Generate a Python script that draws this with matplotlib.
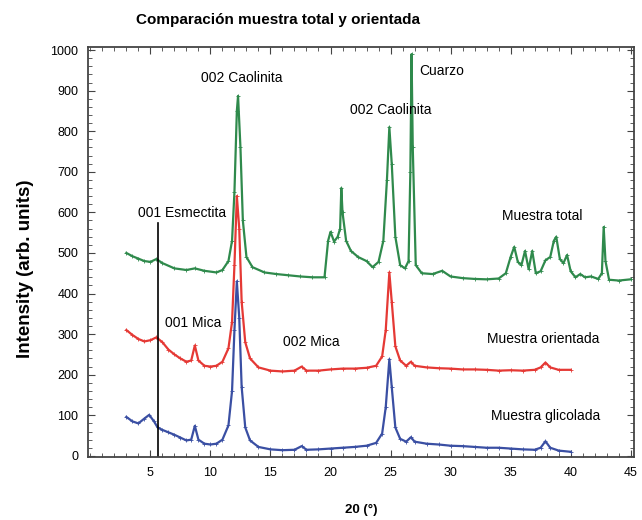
import matplotlib.pyplot as plt
from matplotlib.ticker import MultipleLocator

plt.rcParams['font.family'] = ['Liberation Sans', 'DejaVu Sans']

# Data (2theta in degrees, intensity)
x_total = [3.0, 3.5, 4.0, 4.5, 5.0, 5.5, 6.0, 7.0, 8.0, 8.7, 9.5, 10.5, 11.0, 11.5, 11.8,
           12.0, 12.2, 12.3, 12.5, 12.7, 13.0, 13.5, 14.5, 15.5, 16.5, 17.5, 18.5, 19.5,
           19.8, 20.0, 20.3, 20.6, 20.8, 20.9, 21.0, 21.3, 21.7, 22.3, 23.0, 23.5, 24.0,
           24.4, 24.7, 24.9, 25.1, 25.4, 25.8, 26.2, 26.5, 26.65, 26.75, 26.85, 27.1, 27.6,
           28.5, 29.3, 30.0, 31.0, 32.0, 33.0, 34.0, 34.6, 35.0, 35.3, 35.6, 35.9, 36.2,
           36.5, 36.8, 37.1, 37.5, 37.9, 38.3, 38.6, 38.8, 39.1, 39.4, 39.7, 40.0, 40.4,
           40.8, 41.2, 41.7, 42.3, 42.6, 42.75, 42.9, 43.2, 44.0, 45.0]
y_total = [500, 492, 486, 480, 478, 485, 475, 462, 458, 462, 456, 452, 458, 480, 530,
           650, 850, 887, 760, 580, 490, 465, 452, 448, 445, 442, 440, 440,
           530, 552, 528, 540, 560, 660, 600, 530, 505, 490, 480, 465, 478,
           530, 680, 810, 720, 540, 470, 462, 480, 700, 990, 760, 470, 450,
           448, 456, 442, 438, 436, 435, 437, 450, 490, 515, 478, 470, 505,
           460, 505, 450, 455, 482, 490, 530, 540, 485, 475, 495, 455, 440,
           448, 440, 442, 436, 450, 564, 480, 434, 432, 435]

x_orient = [3.0, 3.5, 4.0, 4.5, 5.0, 5.5, 6.0, 6.5, 7.0, 7.5, 8.0, 8.4, 8.7, 9.0, 9.5,
            10.0, 10.5, 11.0, 11.5, 11.8, 12.0, 12.2, 12.4, 12.6, 12.9, 13.3, 14.0, 15.0,
            16.0, 17.0, 17.6, 18.0, 19.0, 20.0, 21.0, 22.0, 23.0, 23.8, 24.3, 24.6, 24.9,
            25.1, 25.4, 25.8, 26.3, 26.7, 27.0, 28.0, 29.0, 30.0, 31.0, 32.0, 33.0, 34.0,
            35.0, 36.0, 37.0, 37.5, 37.9, 38.3, 39.0, 40.0]
y_orient = [310, 298, 288, 282, 285, 292, 280, 262, 250, 240, 232, 235, 272, 235, 222,
            220, 222, 232, 265, 330, 470, 640, 560, 380, 280, 240, 218, 210,
            208, 210, 220, 210, 210, 213, 215, 215, 217, 222, 245, 310, 452,
            380, 270, 235, 222, 232, 222, 218, 216, 215, 213, 213, 212, 210,
            211, 210, 212, 218, 230, 218, 212, 212]

x_glic = [3.0, 3.5, 4.0, 4.5, 4.9, 5.3, 5.6, 6.0, 6.5, 7.0, 7.5, 8.0, 8.4, 8.7, 9.0,
          9.5, 10.0, 10.5, 11.0, 11.5, 11.8, 12.0, 12.2, 12.4, 12.6, 12.9, 13.3, 14.0,
          15.0, 16.0, 17.0, 17.6, 18.0, 19.0, 20.0, 21.0, 22.0, 23.0, 23.8, 24.3, 24.6,
          24.9, 25.1, 25.4, 25.8, 26.3, 26.7, 27.0, 28.0, 29.0, 30.0, 31.0, 32.0, 33.0,
          34.0, 35.0, 36.0, 37.0, 37.5, 37.9, 38.3, 39.0, 40.0]
y_glic = [96, 85, 80, 92, 101, 85, 70, 64, 58, 52, 45, 38, 40, 74, 40,
          30, 28, 30, 40, 75, 160, 310, 430, 340, 170, 70, 38, 22,
          16, 14, 15, 24, 15, 16, 18, 20, 22, 25, 32, 55, 120,
          238, 170, 70, 42, 35, 46, 35, 30, 28, 25, 24, 22, 20,
          20, 18, 16, 15, 20, 36, 20, 13, 10]

fig = plt.figure(figsize=(6.42, 5.20), dpi=100)
ax = fig.add_axes([0.137, 0.121, 0.851, 0.789])

style = dict(linewidth=1.6, marker='+', markersize=2.5, markeredgewidth=0.6)
ax.plot(x_total, y_total, color='#2f8a4c', **style)
ax.plot(x_orient, y_orient, color='#e53935', **style)
ax.plot(x_glic, y_glic, color='#3a4fa3', **style)

# 001 Esmectita marker line
ax.plot([5.6, 5.6], [-3, 575], color='black', linewidth=1.2)

fs = 10
ax.text(4.0, 598, '001 Esmectita', fontsize=fs, va='center')
ax.text(12.6, 931, '002 Caolinita', fontsize=fs, ha='center', va='center')
ax.text(25.0, 852, '002 Caolinita', fontsize=fs, ha='center', va='center')
ax.text(27.4, 948, 'Cuarzo', fontsize=fs, va='center')
ax.text(37.6, 591, 'Muestra total', fontsize=fs, ha='center', va='center')
ax.text(8.6, 328, '001 Mica', fontsize=fs, ha='center', va='center')
ax.text(18.4, 281, '002 Mica', fontsize=fs, ha='center', va='center')
ax.text(37.75, 288, 'Muestra orientada', fontsize=fs, ha='center', va='center')
ax.text(37.9, 98, 'Muestra glicolada', fontsize=fs, ha='center', va='center')

ax.set_xlim(-0.2, 45.3)
ax.set_ylim(-3, 1008)
ax.xaxis.set_major_locator(MultipleLocator(5))
ax.xaxis.set_minor_locator(MultipleLocator(1))
ax.yaxis.set_major_locator(MultipleLocator(100))
ax.yaxis.set_minor_locator(MultipleLocator(20))
ax.set_xticks([5, 10, 15, 20, 25, 30, 35, 40, 45])
ax.tick_params(which='both', direction='in', top=True, right=True, labelsize=9, color='#444444')
ax.tick_params(which='major', length=5, pad=7)
ax.tick_params(which='minor', length=3)
for s in ax.spines.values():
    s.set_color('#444444')
    s.set_linewidth(1.3)

ax.set_ylabel('Intensity (arb. units)', fontsize=13.5, fontweight='bold')
ax.yaxis.set_label_coords(-0.098, 0.46)
ax.set_xlabel('20 (°)', fontsize=9.5, fontweight='bold', labelpad=18)
fig.text(0.433, 0.962, 'Comparación muestra total y orientada', fontsize=11,
         fontweight='bold', ha='center', va='center')

fig.savefig('out.png', dpi=100)
